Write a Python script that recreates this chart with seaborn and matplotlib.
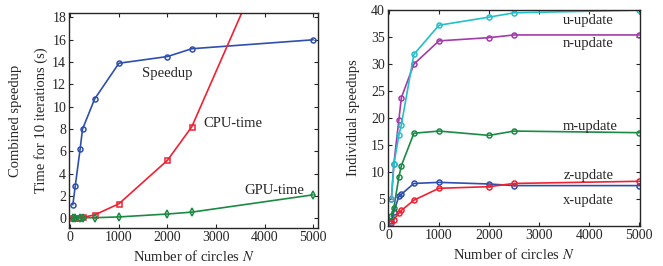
import numpy as np
import pandas as pd
import matplotlib
matplotlib.use('Agg')
import matplotlib.pyplot as plt
import seaborn as sns

# Data
n_circles = [50, 100, 200, 250, 500, 1000, 2000, 2500, 5000]

speedup = [1.2, 2.9, 6.2, 8.0, 10.7, 13.9, 14.5, 15.2, 16.0]
cpu_time = [0.0, 0.02, 0.05, 0.08, 0.3, 1.3, 5.2, 8.2, 33.0]
gpu_time = [0.03, 0.03, 0.04, 0.05, 0.05, 0.12, 0.38, 0.55, 2.1]

x_update = [1.0, 2.7, 5.5, 5.9, 7.9, 8.1, 7.8, 7.5, 7.5]
z_update = [0.5, 1.2, 2.4, 2.9, 4.8, 7.0, 7.3, 7.9, 8.3]
m_update = [1.8, 3.4, 9.1, 11.2, 17.2, 17.6, 16.8, 17.6, 17.3]
n_update = [5.0, 11.5, 19.7, 23.8, 30.0, 34.3, 34.9, 35.4, 35.4]
u_update = [5.0, 11.5, 16.8, 18.8, 31.8, 37.2, 38.7, 39.5, 40.0]

blue = '#2f4fae'
red = '#ee2233'
green = '#1b8a45'
cyan = '#22c0c8'
purple = '#a33ba8'

sns.set_style('ticks')
plt.rcParams['font.family'] = ['Liberation Serif', 'DejaVu Serif']
plt.rcParams['mathtext.fontset'] = 'stix'
plt.rcParams['font.size'] = 9

fig = plt.figure(figsize=(6.63, 2.66), dpi=100)
ax1 = fig.add_axes([0.104, 0.143, 0.3756, 0.808])
ax2 = fig.add_axes([0.585, 0.150, 0.380, 0.812])


def draw(ax, y, color, marker):
    sns.lineplot(x=n_circles, y=y, ax=ax, color=color, marker=marker,
                 markersize=3.6, markerfacecolor='none', markeredgecolor=color,
                 markeredgewidth=1.1, linewidth=1.2, legend=False)


# Left panel
draw(ax1, speedup, blue, 'o')
draw(ax1, cpu_time, red, 's')
draw(ax1, gpu_time, green, 'd')
ax1.set_xlim(-30, 5100)
ax1.set_ylim(-0.87, 18.4)
ax1.set_yticks(range(0, 19, 2))
ax1.set_xticks(range(0, 5001, 1000))
ax1.set_xlabel('Number of circles $N$', fontsize=10.5)
ax1.set_ylabel('Combined speedup\nTime for 10 iterations (s)', fontsize=10.5,
               linespacing=2.1, labelpad=3)
ax1.text(1470, 13.0, 'Speedup', va='center', fontsize=10.5)
ax1.text(2740, 8.5, 'CPU-time', va='center', fontsize=10.5)
ax1.text(3590, 2.5, 'GPU-time', va='center', fontsize=10.5)

# Right panel
draw(ax2, x_update, blue, 'o')
draw(ax2, z_update, red, 'o')
draw(ax2, m_update, green, 'o')
draw(ax2, n_update, purple, 'o')
draw(ax2, u_update, cyan, 'o')
ax2.set_xlim(-20, 5010)
ax2.set_ylim(0, 40)
ax2.set_yticks(range(0, 41, 5))
ax2.set_xticks(range(0, 5001, 1000))
ax2.set_xlabel('Number of circles $N$', fontsize=10.5)
ax2.set_ylabel('Individual speedups', fontsize=10.5, labelpad=8)
ax2.text(3480, 38.1, 'u-update', va='center', fontsize=10.5)
ax2.text(3480, 33.8, 'n-update', va='center', fontsize=10.5)
ax2.text(3480, 18.4, 'm-update', va='center', fontsize=10.5)
ax2.text(3480, 9.4, 'z-update', va='center', fontsize=10.5)
ax2.text(3480, 4.8, 'x-update', va='center', fontsize=10.5)

for ax in (ax1, ax2):
    ax.tick_params(direction='in', top=True, right=True, length=3,
                   width=0.8, labelsize=10, pad=2)
    for s in ax.spines.values():
        s.set_linewidth(1.0)

fig.savefig('out.png', dpi=100)
